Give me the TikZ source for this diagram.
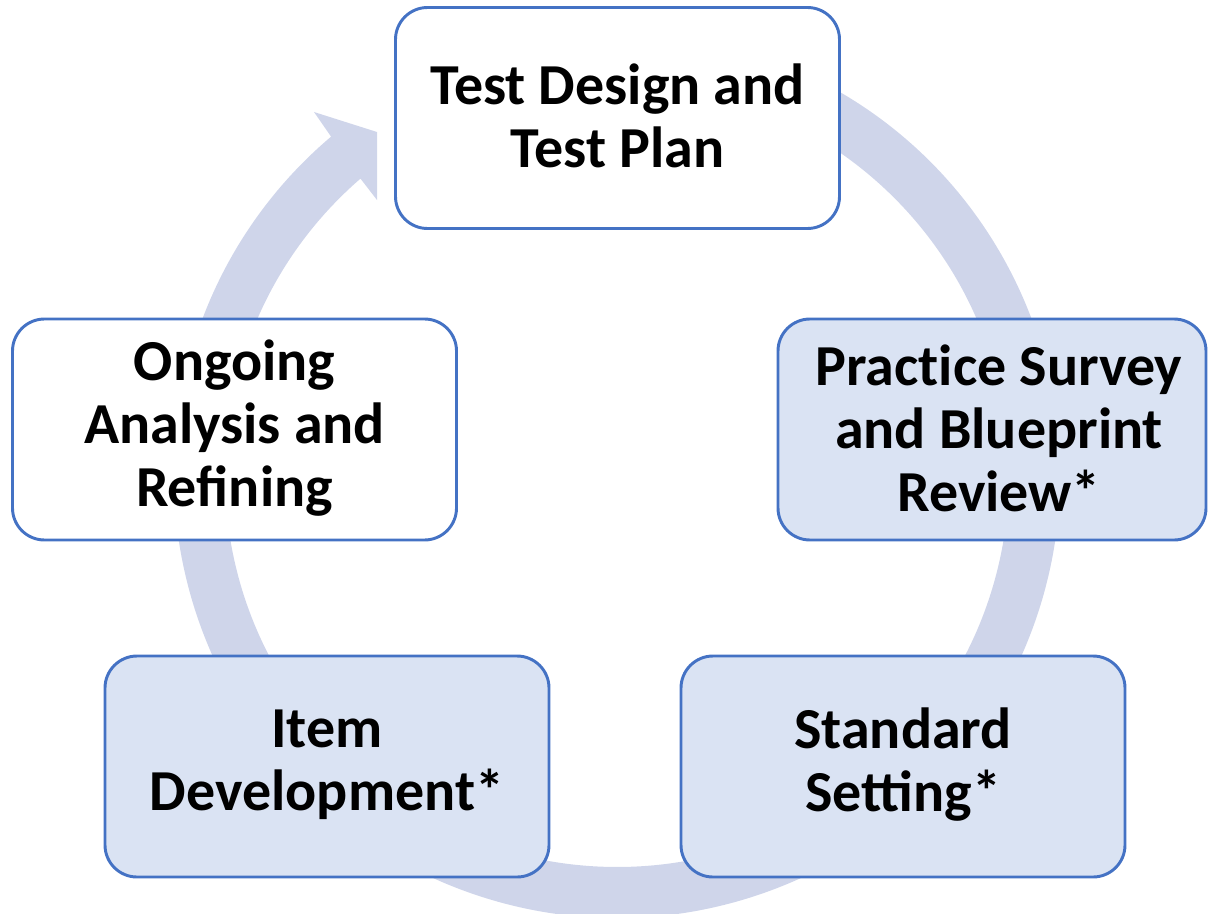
\documentclass[tikz,border=0pt]{standalone}
\usepackage{fontspec}
\setmainfont{Carlito}
\usetikzlibrary{calc}
\definecolor{ringc}{HTML}{CFD5EA}
\definecolor{boxline}{HTML}{4472C4}
\definecolor{boxfill}{HTML}{DAE3F3}
\tikzset{
  stage/.style={draw=boxline, line width=2.2pt, rounded corners=24pt, minimum width=333pt, minimum height=165.75pt, inner sep=0pt},
  whitestage/.style={stage, fill=white},
  bluestage/.style={stage, fill=boxfill},
  lbl/.style={align=center, font=\fontsize{43.5}{47.25}\selectfont\bfseries, inner sep=0pt}
}
\begin{document}
\begin{tikzpicture}[x=0.75pt,y=0.75pt]
\useasboundingbox (0,0) rectangle (1209,-913);
\coordinate (c) at (617,-475);
% cycle ring with arrow head
\fill[ringc] ($(c)+(70:443)$) arc[start angle=70, end angle=-229.8, radius=443]
  -- (314,-112) -- (377,-132) -- (377,-200) -- (360,-178)
  -- ($(c)+(-229.2:392)$) arc[start angle=-229.2, end angle=70, radius=392] -- cycle;
% stages
\node[whitestage] (design) at (617.5,-118) {};
\node[lbl] (designT) at (617.5,-116) {Test Design and\\Test Plan};
\node[bluestage, minimum width=321pt] (practice) at (992,-429.5) {};
\node[lbl] (practiceT) at (999,-428) {Pract\kern0pt ice Survey\\and Blueprint\\Review*};
\node[bluestage] (standard) at (903,-766.5) {};
\node[lbl] (standardT) at (903,-765) {Standard\\Setting*};
\node[bluestage] (item) at (327,-766.5) {};
\node[lbl] (itemT) at (327,-765) {Item\\Development*};
\node[whitestage] (ongoing) at (234.5,-429.5) {};
\node[lbl] (ongoingT) at (234.5,-428) {Ongoing\\Analysis and\\Refining};
\end{tikzpicture}
\end{document}
